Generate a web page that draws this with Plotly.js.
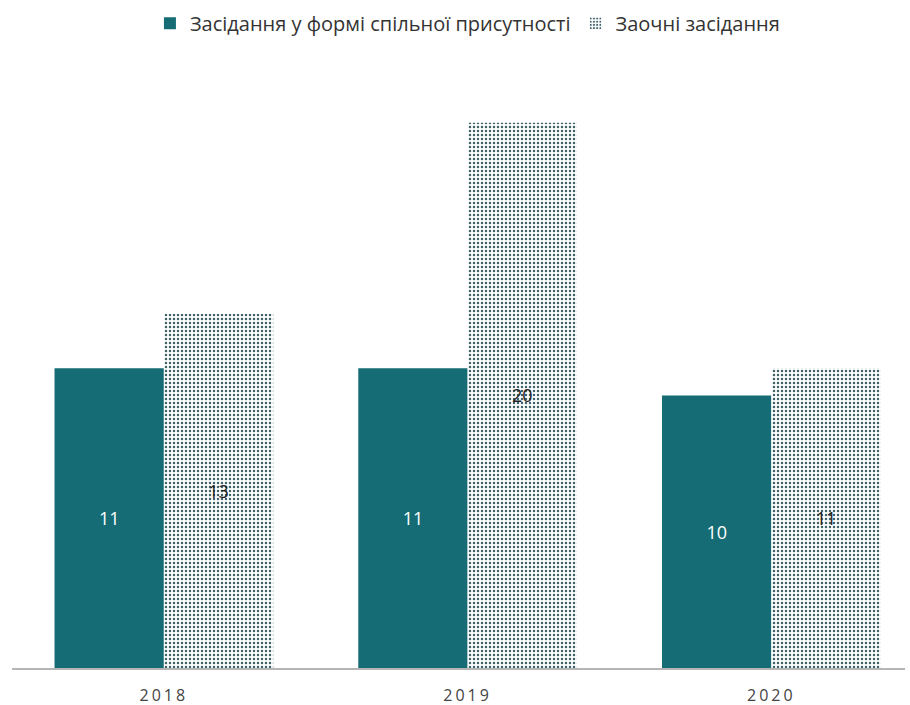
<!DOCTYPE html>
<html><head><meta charset="utf-8">
<script src="https://cdn.plot.ly/plotly-3.0.1.min.js"></script>
<style>body{margin:0;background:#fff}#c{width:910px;height:705px}
.xtick text{letter-spacing:3px}</style>
</head><body><div id="c"></div>
<script>
const years = ['2018', '2019', '2020'];
const inPerson = [11, 11, 10];
const remote = [13, 20, 11];
const seriesNames = ['Засідання у формі спільної присутності', 'Заочні засідання'];

const font = 'Open Sans, Noto Sans, sans-serif';
const traces = [
  {
    type: 'bar', name: seriesNames[0], x: years, y: inPerson,
    text: inPerson.map(String), textposition: 'inside', insidetextanchor: 'middle',
    textfont: {color: '#ffffff', size: 18, family: font},
    marker: {color: '#156c75'}
  },
  {
    type: 'bar', name: seriesNames[1], x: years, y: remote,
    text: remote.map(String), textposition: 'inside', insidetextanchor: 'middle',
    textfont: {color: '#222222', size: 18, family: font},
    marker: {color: '#ffffff', pattern: {shape: '.', fgcolor: '#3e6169', bgcolor: '#ffffff', size: 4, solidity: 0.3}}
  }
];
const layout = {
  width: 910, height: 705,
  margin: {l: 12, r: 5, t: 100, b: 37},
  paper_bgcolor: '#fff', plot_bgcolor: '#fff',
  barmode: 'group', bargap: 0.28, bargroupgap: 0,
  font: {family: font, color: '#333'},
  showlegend: true,
  legend: {orientation: 'h', x: 0.51, xanchor: 'center', y: 1.135, yanchor: 'middle',
    font: {size: 20, color: '#333', family: font}, itemwidth: 30},
  xaxis: {type: 'category', range: [-0.5, 2.44], showline: true, linecolor: '#b5b5b5', linewidth: 1.5,
    ticks: '', tickfont: {size: 16, color: '#444', family: font}, ticklabelstandoff: 12, showgrid: false, zeroline: false},
  yaxis: {range: [0, 20.8], visible: false, showgrid: false, zeroline: false}
};
Plotly.newPlot('c', traces, layout, {displayModeBar: false});
</script></body></html>
